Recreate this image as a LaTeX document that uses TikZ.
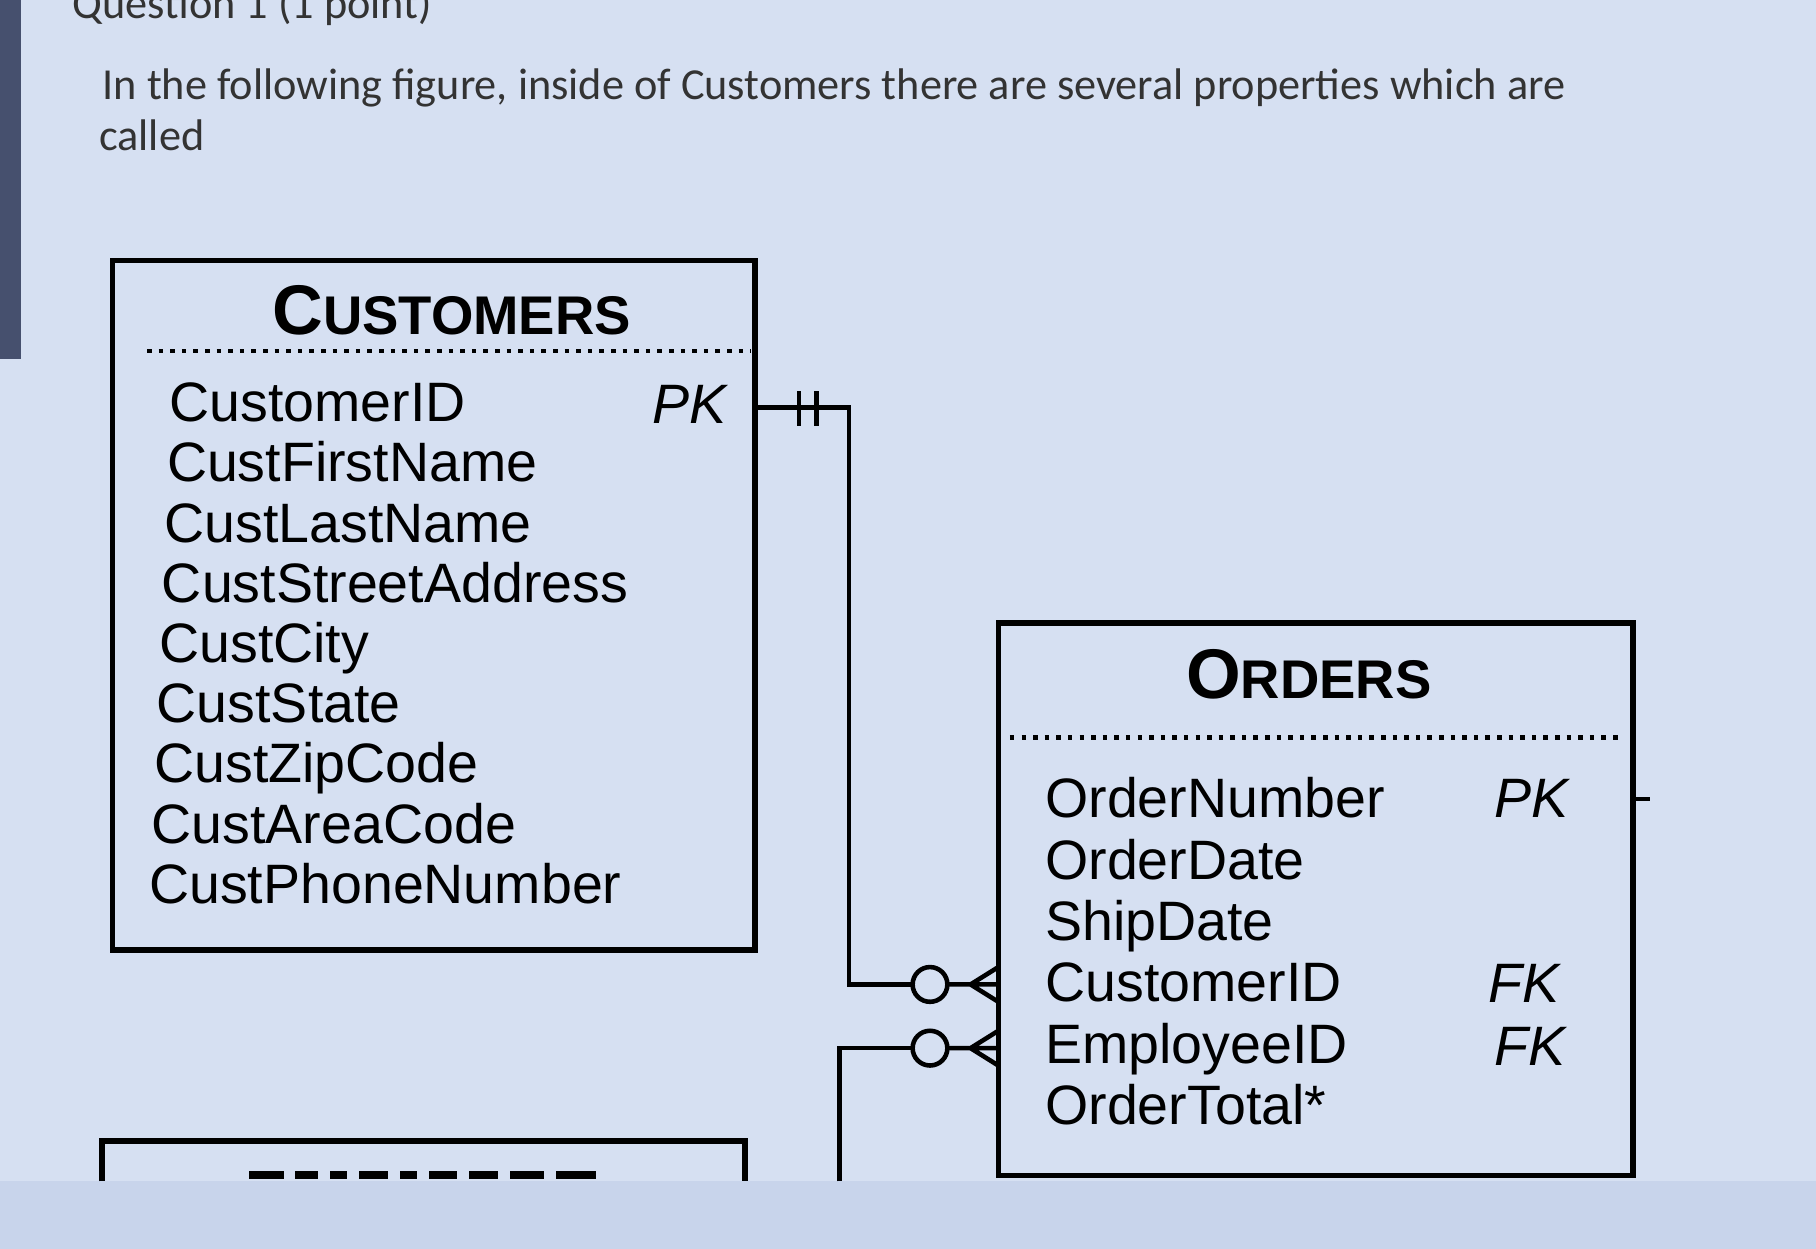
\documentclass[tikz,border=0pt]{standalone}
\usepackage{fontspec}
\setmainfont{Liberation Sans}
\newfontfamily\qfont{Carlito}
\begin{document}
\begin{tikzpicture}[x=0.011582cm,y=-0.011582cm,
  box/.style={draw=black,line width=1.6pt},
  lnk/.style={draw=black,line width=1.3pt},
  attr/.style={anchor=base west,inner sep=0pt,font=\fontsize{15.8}{18}\selectfont},
  keyl/.style={anchor=base west,inner sep=0pt,font=\fontsize{15.8}{18}\selectfont\itshape},
  ttl/.style={inner sep=0pt,font=\bfseries},
  qtxt/.style={anchor=base west,inner sep=0pt,font=\qfont\fontsize{12.6}{14}\selectfont,text=black!80}]
\fill[fill={rgb,255:red,214;green,224;blue,242}] (0,0) rectangle (1568,1078);
\fill[fill={rgb,255:red,70;green,80;blue,110}] (0,0) rectangle (18,310);
\fill[fill={rgb,255:red,200;green,212;blue,235}] (0,1020) rectangle (1568,1078);
\useasboundingbox (0,0) rectangle (1568,1078);
\node[qtxt] (q1) at (62,16) {Question 1 (1 point)};
\node[qtxt] (q2) at (88,86) {In the following figure, inside of Customers there are several properties which are};
\node[qtxt] (q3) at (85,130) {called};
% Customers
\draw[box] (97,225) rectangle (652,820);
\node[ttl] (ct) at (390,268) {\fontsize{20}{22}\selectfont C\fontsize{15.5}{17}\selectfont USTOMERS};
\draw[dotted,line width=1.3pt] (127,303) -- (648,303);
\foreach \t [count=\i] in {CustomerID,CustFirstName,CustLastName,CustStreetAddress,CustCity,CustState,CustZipCode,CustAreaCode,CustPhoneNumber}
  \node[attr] (ca\i) at (148-2.2*\i,364+52*\i-52) {\t};
\node[keyl] (cpk) at (563,366) {PK};
% Orders
\draw[box] (862,538) rectangle (1410,1015);
\node[ttl] (ot) at (1130,582) {\fontsize{20}{22}\selectfont O\fontsize{15.5}{17}\selectfont RDERS};
\draw[dotted,line width=1.3pt] (872,637) -- (1398,637);
\foreach \t [count=\i] in {OrderNumber,OrderDate,ShipDate,CustomerID,EmployeeID,OrderTotal*}
  \node[attr] (oa\i) at (902,706+53*\i-53) {\t};
\node[keyl] (opk) at (1290,706) {PK};
\node[keyl] (ofk1) at (1285,866) {FK};
\node[keyl] (ofk2) at (1290,920) {FK};
\coordinate (oe) at (1425,690);
\draw[lnk] (1410,690) -- (oe);
% Employees partial
\draw[box] (88,1020) -- (88,985) -- (643,985) -- (643,1020);
\foreach \a/\b in {215/245,255/275,285/300,310/335,345/360,370/395,405/430,440/470,480/515}
  \fill (\a,1011) rectangle (\b,1018);
% relationship 1
\coordinate (r1a) at (652,352);
\coordinate (r1b) at (733,352);
\coordinate (r1c) at (733,850);
\draw[lnk] (r1a) -- (r1b) -- (r1c) -- (788,850);
\draw[lnk] (690,338) -- (690,368) (705,338) -- (705,368);
\draw[lnk] (803,850) circle (15);
\draw[lnk] (818,850) -- (862,850) (838,850) -- (862,835) (838,850) -- (862,865);
% relationship 2
\coordinate (r2a) at (725,1020);
\coordinate (r2b) at (725,905);
\draw[lnk] (r2a) -- (r2b) -- (788,905);
\draw[lnk] (803,905) circle (15);
\draw[lnk] (818,905) -- (862,905) (838,905) -- (862,890) (838,905) -- (862,920);
\end{tikzpicture}
\end{document}
